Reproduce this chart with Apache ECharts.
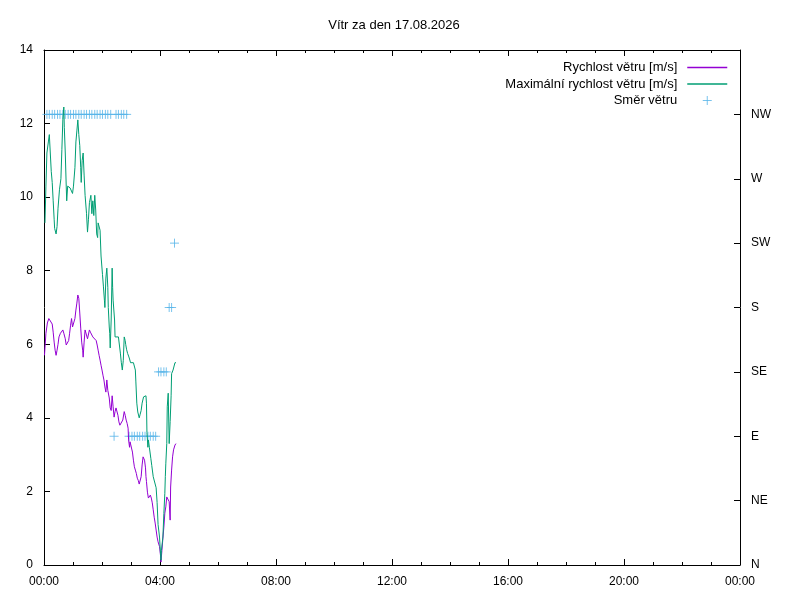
<!DOCTYPE html>
<html><head><meta charset="utf-8">
<script src="https://cdn.jsdelivr.net/npm/echarts@6/dist/echarts.min.js"></script>
<style>html,body{margin:0;padding:0;background:#fff}#c{width:800px;height:600px}</style>
</head><body><div id="c"></div>
<script>
const titleText = 'Vítr za den 17.08.2026';
const legendNames = ['Rychlost větru [m/s]', 'Maximální rychlost větru [m/s]', 'Směr větru'];
const dirLabels = ['N', 'NE', 'E', 'SE', 'S', 'SW', 'W', 'NW', ''];

// minutes since midnight
const speedTimes = [1,4,7,10,14,17,19,21,23,25,27,29,31,34,36,39,41,44,46,48,51,53,55,57,59,61,64,66,68,70,72,74,76,78,80,81,83,85,88,90,92,94,96,98,101,103,105,108,110,112,114,116,118,120,122,124,126,128,130,132,135,137,139,141,143,145,147,149,151,153,155,157,159,161,163,166,168,170,172,174,175,177,178,181,183,185,187,189,191,193,195,197,199,201,203,205,208,210,211,212,214,216,218,220,222,224,226,228,230,232,234,236,239,241,242,244,246,248,250,252,254,257,259,261,262,264,266,268,271,273];
const speedValues = [5.7,6.3,6.58,6.7,6.7,6.55,6.33,6.06,5.84,5.7,5.84,6.0,6.2,6.3,6.33,6.39,6.3,6.15,5.98,5.98,6.1,6.3,6.52,6.7,6.47,6.45,6.7,6.93,7.12,7.34,7.25,6.85,6.44,6.06,5.84,5.65,6.06,6.39,6.39,6.15,6.2,6.39,6.33,6.3,6.2,6.15,6.15,6.1,5.98,5.84,5.7,5.57,5.43,5.3,5.16,5.03,4.84,4.7,5.03,4.75,4.54,4.27,4.2,4.6,4.3,4.02,4.17,4.27,4.3,4.07,3.89,3.8,3.82,3.85,3.94,4.17,4.07,3.94,3.85,3.72,3.4,3.2,3.35,3.3,3.07,2.85,2.67,2.58,2.49,2.36,2.3,2.2,2.2,2.4,2.72,2.94,2.85,2.64,2.4,2.27,1.98,1.82,1.85,1.9,1.82,1.69,1.5,1.3,1.14,0.95,0.76,0.63,0.5,0.27,0.08,0.4,0.73,1.03,1.41,1.58,1.85,1.9,1.72,1.22,2.12,2.58,2.94,3.13,3.26,3.3];

const gustTimes = [2,4,6,9,11,13,15,17,19,21,22,25,27,29,32,35,37,39,41,42,44,46,47,49,51,54,58,59,61,64,66,68,70,72,74,76,77,79,81,83,85,88,90,92,94,97,99,101,103,105,107,109,111,112,114,116,118,121,123,125,126,128,130,132,133,135,136,137,139,141,142,143,146,147,150,154,156,158,160,162,164,166,168,169,171,173,175,177,179,185,187,189,190,192,194,197,199,201,203,206,209,211,212,213,215,216,218,220,221,223,226,229,232,234,236,239,241,242,243,246,248,250,251,252,254,255,257,259,261,263,264,267,271,273];
const gustValues = [9.3,10.3,11.2,11.5,11.7,11.2,10.7,10.4,9.9,9.4,9.15,9.0,9.2,9.7,10.2,10.5,11.3,12.1,12.45,11.9,11.2,10.3,9.9,10.3,10.25,10.25,10.25,10.1,10.3,10.8,11.5,11.8,12.1,11.7,11.4,10.8,10.4,11.0,11.2,10.6,10.05,9.55,9.05,9.4,9.85,10.05,9.55,9.9,9.5,10.05,9.65,9.0,8.9,9.3,9.35,9.1,8.4,7.9,7.56,7.2,7.0,7.8,8.07,7.55,7.0,6.47,6.3,5.9,6.66,8.07,7.55,7.2,6.66,6.2,6.2,6.2,6.2,5.76,5.5,5.3,5.56,6.2,6.1,6.0,5.85,5.75,5.68,5.6,5.5,5.5,5.5,5.3,5.0,4.4,4.16,4.0,4.1,4.2,4.4,4.57,4.6,4.6,4.4,3.6,3.2,3.4,3.2,3.2,2.9,2.7,2.4,2.4,2.1,1.7,1.1,0.76,0.32,0.13,0.4,0.76,1.4,1.95,2.4,2.75,3.3,4.3,4.67,3.3,3.9,4.6,5.2,5.3,5.5,5.5];

const dirTimes = [6,11,17,22,28,33,39,44,50,55,61,66,72,77,83,88,94,99,105,110,116,121,127,132,138,145,149,154,160,165,171,176,182,187,193,198,204,209,215,220,226,231,237,242,248,253,259,264,270];
const dirValues = [315,315,315,315,315,315,315,315,315,315,315,315,315,315,315,315,315,315,315,315,315,315,315,315,315,90,315,315,315,315,315,90,90,90,90,90,90,90,90,90,90,90,135,135,135,135,180,180,225];

function zip(a, b) { return a.map((t, i) => [t, b[i]]); }
function fmtTime(v) {
  const m = v % 1440, h = Math.floor(m / 60), mm = m % 60;
  return String(h).padStart(2, '0') + ':' + String(mm).padStart(2, '0');
}
const font = '"Liberation Sans", Arial, sans-serif';
const black = '#000';
const tickStyle = { color: black, width: 1 };
const speedColor = '#9400d3', gustColor = '#009e73', dirColor = '#56b4e9';

const chart = echarts.init(document.getElementById('c'));
chart.setOption({
  animation: false,
  backgroundColor: '#fff',
  title: {
    text: titleText, left: 389, top: 14, textAlign: 'center',
    textStyle: { fontFamily: font, fontSize: 13, fontWeight: 'normal', color: black }
  },
  legend: {
    orient: 'vertical', right: 67, top: 56, align: 'right',
    itemWidth: 40, itemHeight: 9, itemGap: 3.5, selectedMode: false,
    textStyle: { fontFamily: font, fontSize: 13, color: black, padding: [0, 5, 0, 0] },
    data: [
      { name: legendNames[0], itemStyle: { opacity: 0 }, lineStyle: { color: speedColor, width: 1.5 } },
      { name: legendNames[1], itemStyle: { opacity: 0 }, lineStyle: { color: gustColor, width: 1.5 } },
      { name: legendNames[2], itemStyle: { borderWidth: 1 } }
    ]
  },
  grid: { left: 44, right: 60, top: 50, bottom: 35 },
  xAxis: [{
    type: 'value', min: 0, max: 1440, interval: 240, position: 'bottom',
    axisLine: { onZero: false, lineStyle: tickStyle },
    axisTick: { inside: true, length: 6, lineStyle: tickStyle },
    minorTick: { show: true, splitNumber: 4, length: 3, lineStyle: tickStyle },
    axisLabel: { formatter: fmtTime, color: black, fontFamily: font, fontSize: 12, margin: 11 },
    splitLine: { show: false }
  }, {
    type: 'value', min: 0, max: 1440, interval: 240, position: 'top',
    axisLine: { onZero: false, lineStyle: tickStyle },
    axisTick: { inside: true, length: 6, lineStyle: tickStyle },
    minorTick: { show: true, splitNumber: 4, length: 3, lineStyle: tickStyle },
    axisLabel: { show: false },
    splitLine: { show: false }
  }],
  yAxis: [{
    type: 'value', min: 0, max: 14, interval: 2, position: 'left',
    axisLine: { show: true, onZero: false, lineStyle: tickStyle },
    axisTick: { show: true, inside: true, length: 6, lineStyle: tickStyle },
    axisLabel: { color: black, fontFamily: font, fontSize: 12, margin: 11 },
    splitLine: { show: false }
  }, {
    type: 'value', min: 0, max: 360, interval: 45, position: 'right',
    axisLine: { show: true, onZero: false, lineStyle: tickStyle },
    axisTick: { show: true, inside: true, length: 6, lineStyle: tickStyle },
    axisLabel: { color: black, fontFamily: font, fontSize: 12, margin: 11,
      formatter: v => dirLabels[Math.round(v / 45)] },
    splitLine: { show: false }
  }],
  series: [{
    name: legendNames[0], type: 'line', xAxisIndex: 0, yAxisIndex: 0,
    data: zip(speedTimes, speedValues), symbol: 'none', showSymbol: false,
    lineStyle: { color: speedColor, width: 1 }, itemStyle: { color: speedColor }
  }, {
    name: legendNames[1], type: 'line', xAxisIndex: 0, yAxisIndex: 0,
    data: zip(gustTimes, gustValues), symbol: 'none', showSymbol: false,
    lineStyle: { color: gustColor, width: 1 }, itemStyle: { color: gustColor }
  }, {
    name: legendNames[2], type: 'scatter', xAxisIndex: 0, yAxisIndex: 1,
    data: zip(dirTimes, dirValues),
    symbol: 'path://M0,5L10,5M5,0L5,10', symbolSize: 9,
    itemStyle: { color: 'rgba(0,0,0,0)', borderColor: dirColor, borderWidth: 1 }
  }]
});
</script></body></html>
